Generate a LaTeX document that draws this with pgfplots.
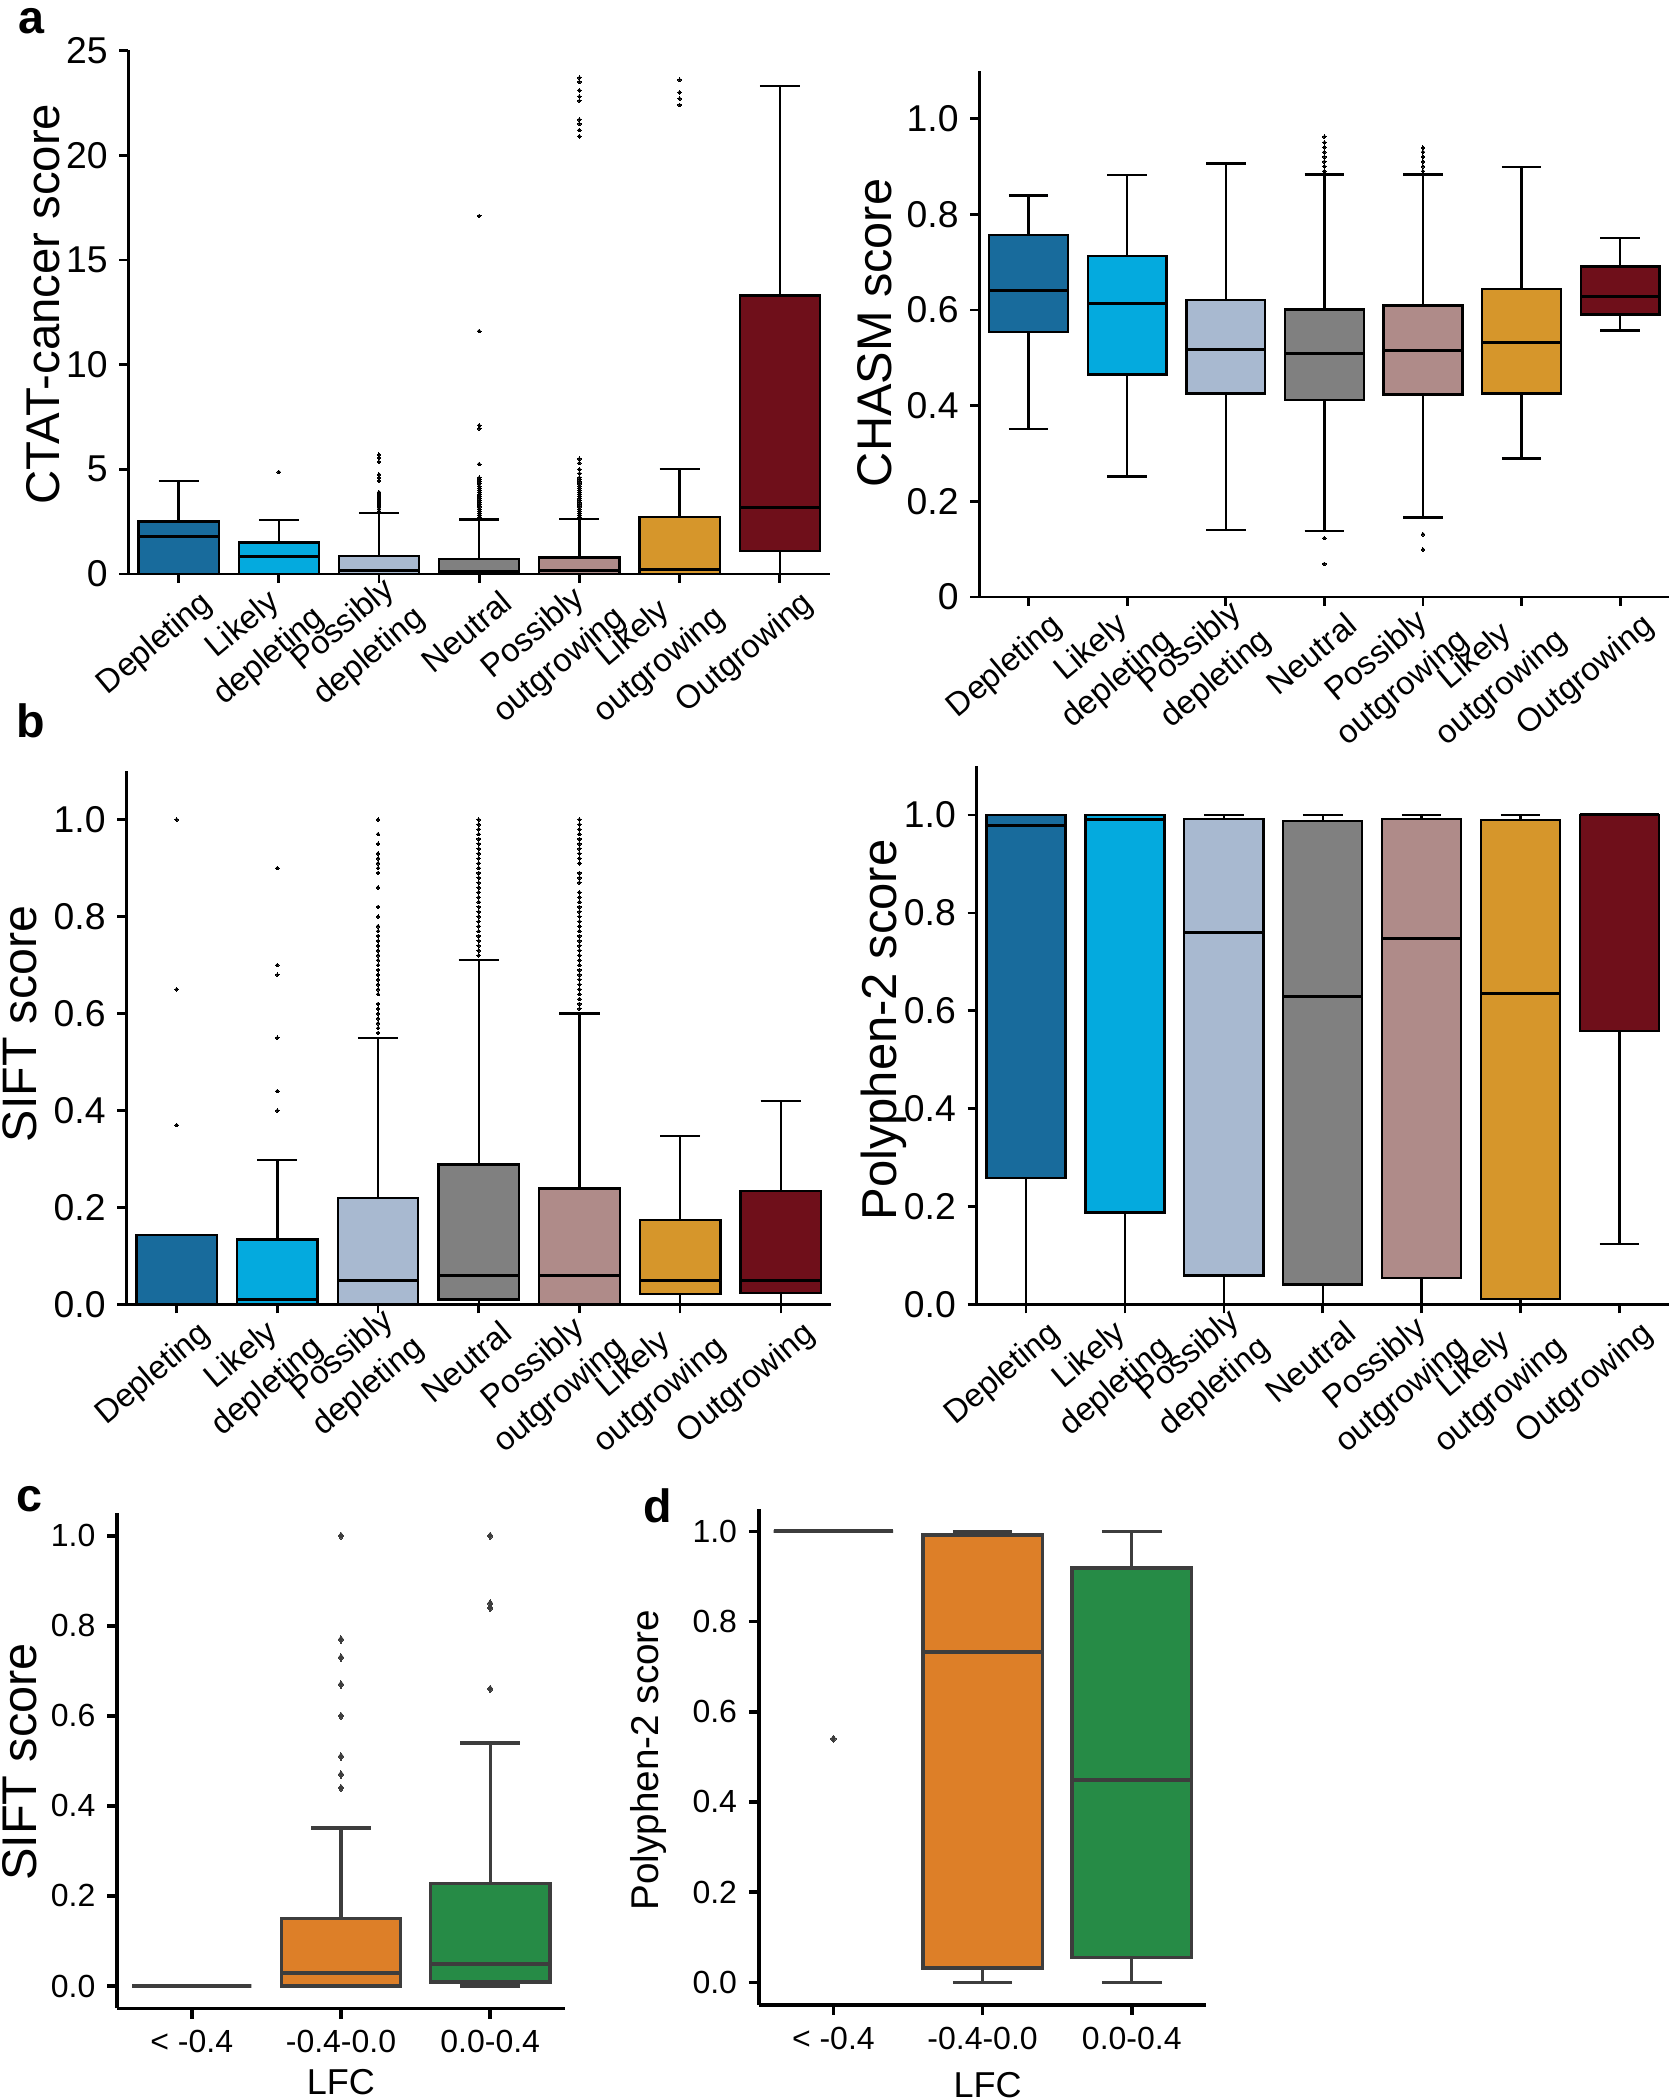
\documentclass[border=0pt]{standalone}
\usepackage{fontspec}
\setmainfont{Liberation Sans}
\usepackage{pgfplots}
\pgfplotsset{compat=1.18}
\usepgfplotslibrary{statistics}

\definecolor{cDep}{HTML}{186B9C}
\definecolor{cLD}{HTML}{04AADE}
\definecolor{cPD}{HTML}{A8B9D0}
\definecolor{cNeu}{HTML}{808080}
\definecolor{cPO}{HTML}{AF8B89}
\definecolor{cLO}{HTML}{D6962B}
\definecolor{cOut}{HTML}{6F0F1A}
\definecolor{cOr}{HTML}{DD7F28}
\definecolor{cGr}{HTML}{268B46}
\definecolor{cEdge}{HTML}{3D3D3D}

\pgfplotsset{
  catax/.style={
    scale only axis, anchor=south west, clip=false,
    axis lines*=left,
    axis line style={line width=0.8pt},
    x axis line style={shorten <=-2.4pt},
    tick align=outside,
    major tick length=2.7pt,
    tick style={line width=0.8pt, black},
    xmin=-0.5, xmax=6.5,
    xtick={0,3,6},
    xticklabels={Depleting,Neutral,Outgrowing},
    extra x ticks={1,2,4,5},
    extra x tick labels={{Likely\\depleting},{Possibly\\depleting},{Possibly\\outgrowing},{Likely\\outgrowing}},
    extra x tick style={xticklabel style={anchor=east, yshift=-7.6pt}},
    xticklabel style={font=\fontsize{9.8}{12.2}\selectfont, align=center, xshift=6.4pt, yshift=3.4pt, rotate=40, anchor=north east},
    yticklabel style={font=\fontsize{11.2}{13}\selectfont},
    /pgf/number format/assume math mode=true,
    boxplot/draw direction=y,
    boxplot/box extend=0.8,
    boxplot/whisker extend=0.4,
    boxplot/every median/.style={line width=0.9pt},
  },
  bx/.style={draw=black, line width=0.7pt, fill=#1, mark=*, mark size=0.55pt, mark options={fill=black, draw=black, line width=0pt}},
  lfcax/.style={
    scale only axis, anchor=south west, clip=false,
    axis lines*=left,
    axis line style={line width=1.1pt},
    tick align=outside,
    major tick length=3pt,
    tick style={line width=1.1pt, black},
    xmin=-0.5, xmax=2.5, ymin=-0.05, ymax=1.05,
    xtick={0,1,2},
    xticklabels={< -0.4,-0.4-0.0,0.0-0.4},
    xticklabel style={font=\fontsize{9.6}{11}\selectfont},
    ytick={0,0.2,0.4,0.6,0.8,1.0},
    yticklabels={0.0,0.2,0.4,0.6,0.8,1.0},
    yticklabel style={font=\fontsize{9.6}{11}\selectfont},
    boxplot/draw direction=y,
    boxplot/box extend=0.8,
    boxplot/whisker extend=0.4,
    boxplot/every median/.style={line width=1.2pt},
  },
  sb/.style={draw=cEdge, line width=1pt, fill=#1, mark=diamond*, mark size=1.1pt, mark options={fill=cEdge, draw=cEdge, line width=0pt}},
}

\begin{document}
\begin{tikzpicture}
\useasboundingbox (0,0) rectangle (504pt,630pt);

% ---------------- panel a left: CTAT-cancer
\begin{axis}[catax, at={(38.55pt,457.8pt)}, width=210.42pt, height=157.05pt,
  ymin=0, ymax=25, ytick={0,5,10,15,20,25}]
\addplot[bx=cDep, boxplot prepared={draw position=0, lower whisker=0, lower quartile=0, median=1.8, upper quartile=2.5, upper whisker=4.43}] coordinates {};
\addplot[bx=cLD, boxplot prepared={draw position=1, lower whisker=0, lower quartile=0, median=0.83, upper quartile=1.51, upper whisker=2.57}] table[row sep=\\,y index=0] {v\\ 4.87\\};
\addplot[bx=cPD, boxplot prepared={draw position=2, lower whisker=0, lower quartile=0, median=0.15, upper quartile=0.86, upper whisker=2.9}] table[row sep=\\,y index=0] {v\\ 5.7\\ 5.55\\ 5.35\\ 4.75\\ 4.6\\ 4.45\\ 3.9\\ 3.8\\ 3.7\\ 3.6\\ 3.5\\ 3.4\\ 3.3\\ 3.2\\ 3.1\\ 3.0\\};
\addplot[bx=cNeu, boxplot prepared={draw position=3, lower whisker=0, lower quartile=0, median=0.1, upper quartile=0.72, upper whisker=2.6}] table[row sep=\\,y index=0] {v\\ 17.1\\ 11.6\\ 7.1\\ 6.95\\ 5.25\\ 4.6\\ 4.5\\ 4.4\\ 4.3\\ 4.2\\ 4.1\\ 4.0\\ 3.9\\ 3.8\\ 3.7\\ 3.6\\ 3.5\\ 3.4\\ 3.3\\ 3.2\\ 3.1\\ 3.0\\ 2.9\\ 2.8\\ 2.7\\};
\addplot[bx=cPO, boxplot prepared={draw position=4, lower whisker=0, lower quartile=0, median=0.15, upper quartile=0.79, upper whisker=2.63}] table[row sep=\\,y index=0] {v\\ 23.7\\ 23.5\\ 23.1\\ 22.8\\ 22.6\\ 21.7\\ 21.5\\ 21.2\\ 20.9\\ 5.5\\ 5.3\\ 5.0\\ 4.8\\ 4.6\\ 4.5\\ 4.4\\ 4.3\\ 4.2\\ 4.1\\ 4.0\\ 3.9\\ 3.8\\ 3.7\\ 3.6\\ 3.5\\ 3.4\\ 3.3\\ 3.2\\ 3.1\\ 3.0\\ 2.9\\ 2.8\\ 2.7\\};
\addplot[bx=cLO, boxplot prepared={draw position=5, lower whisker=0, lower quartile=0, median=0.2, upper quartile=2.72, upper whisker=5.0}] table[row sep=\\,y index=0] {v\\ 23.6\\ 23.0\\ 22.7\\ 22.4\\};
\addplot[bx=cOut, boxplot prepared={draw position=6, lower whisker=0, lower quartile=1.1, median=3.18, upper quartile=13.3, upper whisker=23.3}] coordinates {};
\end{axis}

% ---------------- panel a right: CHASM
\begin{axis}[catax, at={(293.79pt,450.93pt)}, width=207.06pt, height=157.86pt,
  ymin=0, ymax=1.1, ytick={0,0.2,0.4,0.6,0.8,1.0}, yticklabels={0,0.2,0.4,0.6,0.8,1.0}]
\addplot[bx=cDep, boxplot prepared={draw position=0, lower whisker=0.351, lower quartile=0.554, median=0.641, upper quartile=0.757, upper whisker=0.839}] coordinates {};
\addplot[bx=cLD, boxplot prepared={draw position=1, lower whisker=0.252, lower quartile=0.465, median=0.613, upper quartile=0.713, upper whisker=0.882}] coordinates {};
\addplot[bx=cPD, boxplot prepared={draw position=2, lower whisker=0.140, lower quartile=0.425, median=0.517, upper quartile=0.620, upper whisker=0.906}] coordinates {};
\addplot[bx=cNeu, boxplot prepared={draw position=3, lower whisker=0.138, lower quartile=0.412, median=0.508, upper quartile=0.601, upper whisker=0.883}] table[row sep=\\,y index=0] {v\\ 0.962\\ 0.95\\ 0.94\\ 0.93\\ 0.92\\ 0.91\\ 0.90\\ 0.89\\ 0.123\\ 0.069\\};
\addplot[bx=cPO, boxplot prepared={draw position=4, lower whisker=0.166, lower quartile=0.423, median=0.516, upper quartile=0.609, upper whisker=0.883}] table[row sep=\\,y index=0] {v\\ 0.939\\ 0.93\\ 0.92\\ 0.91\\ 0.90\\ 0.89\\ 0.131\\ 0.099\\};
\addplot[bx=cLO, boxplot prepared={draw position=5, lower whisker=0.289, lower quartile=0.425, median=0.532, upper quartile=0.643, upper whisker=0.899}] coordinates {};
\addplot[bx=cOut, boxplot prepared={draw position=6, lower whisker=0.557, lower quartile=0.590, median=0.628, upper quartile=0.691, upper whisker=0.750}] coordinates {};
\end{axis}

% ---------------- panel b left: SIFT
\begin{axis}[catax, at={(37.89pt,238.65pt)}, width=211.47pt, height=160.02pt,
  ymin=0, ymax=1.1, ytick={0,0.2,0.4,0.6,0.8,1.0}, yticklabels={0.0,0.2,0.4,0.6,0.8,1.0}]
\addplot[bx=cDep, boxplot prepared={draw position=0, lower whisker=0, lower quartile=0, median=0, upper quartile=0.144, upper whisker=0.144}] table[row sep=\\,y index=0] {v\\ 1.0\\ 0.65\\ 0.37\\};
\addplot[bx=cLD, boxplot prepared={draw position=1, lower whisker=0, lower quartile=0, median=0.01, upper quartile=0.134, upper whisker=0.298}] table[row sep=\\,y index=0] {v\\ 0.90\\ 0.70\\ 0.68\\ 0.55\\ 0.44\\ 0.40\\};
\addplot[bx=cPD, boxplot prepared={draw position=2, lower whisker=0, lower quartile=0, median=0.049, upper quartile=0.219, upper whisker=0.55}] table[row sep=\\,y index=0] {v\\ 1.0\\ 0.97\\ 0.95\\ 0.93\\ 0.92\\ 0.91\\ 0.90\\ 0.89\\ 0.86\\ 0.82\\ 0.80\\ 0.78\\ 0.77\\ 0.76\\ 0.75\\ 0.74\\ 0.73\\ 0.72\\ 0.71\\ 0.70\\ 0.69\\ 0.68\\ 0.67\\ 0.66\\ 0.65\\ 0.64\\ 0.62\\ 0.61\\ 0.60\\ 0.59\\ 0.58\\ 0.57\\ 0.56\\};
\addplot[bx=cNeu, boxplot prepared={draw position=3, lower whisker=0, lower quartile=0.01, median=0.059, upper quartile=0.289, upper whisker=0.71}] table[row sep=\\,y index=0] {v\\ 1.0\\ 0.99\\ 0.98\\ 0.97\\ 0.96\\ 0.95\\ 0.94\\ 0.93\\ 0.92\\ 0.91\\ 0.90\\ 0.89\\ 0.88\\ 0.87\\ 0.86\\ 0.85\\ 0.84\\ 0.83\\ 0.82\\ 0.81\\ 0.80\\ 0.79\\ 0.78\\ 0.77\\ 0.76\\ 0.75\\ 0.74\\ 0.73\\ 0.72\\};
\addplot[bx=cPO, boxplot prepared={draw position=4, lower whisker=0, lower quartile=0, median=0.059, upper quartile=0.239, upper whisker=0.60}] table[row sep=\\,y index=0] {v\\ 1.0\\ 0.99\\ 0.98\\ 0.97\\ 0.96\\ 0.95\\ 0.94\\ 0.93\\ 0.92\\ 0.91\\ 0.89\\ 0.88\\ 0.87\\ 0.85\\ 0.84\\ 0.83\\ 0.82\\ 0.81\\ 0.80\\ 0.79\\ 0.78\\ 0.77\\ 0.76\\ 0.75\\ 0.74\\ 0.73\\ 0.72\\ 0.71\\ 0.70\\ 0.69\\ 0.68\\ 0.67\\ 0.66\\ 0.65\\ 0.64\\ 0.63\\ 0.62\\ 0.61\\};
\addplot[bx=cLO, boxplot prepared={draw position=5, lower whisker=0, lower quartile=0.022, median=0.049, upper quartile=0.174, upper whisker=0.348}] coordinates {};
\addplot[bx=cOut, boxplot prepared={draw position=6, lower whisker=0, lower quartile=0.024, median=0.049, upper quartile=0.234, upper whisker=0.42}] coordinates {};
\end{axis}

% ---------------- panel b right: Polyphen-2
\begin{axis}[catax, at={(292.98pt,238.65pt)}, width=207.69pt, height=161.55pt,
  ymin=0, ymax=1.1, ytick={0,0.2,0.4,0.6,0.8,1.0}, yticklabels={0.0,0.2,0.4,0.6,0.8,1.0}]
\addplot[bx=cDep, boxplot prepared={draw position=0, lower whisker=0, lower quartile=0.259, median=0.979, upper quartile=1.0, upper whisker=1.0}] coordinates {};
\addplot[bx=cLD, boxplot prepared={draw position=1, lower whisker=0, lower quartile=0.188, median=0.99, upper quartile=1.0, upper whisker=1.0}] coordinates {};
\addplot[bx=cPD, boxplot prepared={draw position=2, lower whisker=0, lower quartile=0.059, median=0.76, upper quartile=0.992, upper whisker=1.0}] coordinates {};
\addplot[bx=cNeu, boxplot prepared={draw position=3, lower whisker=0, lower quartile=0.041, median=0.63, upper quartile=0.987, upper whisker=1.0}] coordinates {};
\addplot[bx=cPO, boxplot prepared={draw position=4, lower whisker=0, lower quartile=0.054, median=0.747, upper quartile=0.992, upper whisker=1.0}] coordinates {};
\addplot[bx=cLO, boxplot prepared={draw position=5, lower whisker=0, lower quartile=0.011, median=0.635, upper quartile=0.99, upper whisker=1.0}] coordinates {};
\addplot[bx=cOut, boxplot prepared={draw position=6, lower whisker=0.123, lower quartile=0.559, median=1.0, upper quartile=1.0, upper whisker=1.0}] coordinates {};
\end{axis}

% ---------------- panel c: SIFT by LFC
\begin{axis}[lfcax, at={(35.16pt,27.45pt)}, width=134.28pt, height=148.56pt]
\addplot[sb=cEdge, boxplot prepared={draw position=0, lower whisker=0, lower quartile=0, median=0, upper quartile=0, upper whisker=0}] coordinates {};
\addplot[sb=cOr, boxplot prepared={draw position=1, lower whisker=0, lower quartile=0, median=0.029, upper quartile=0.150, upper whisker=0.351}] table[row sep=\\,y index=0] {v\\ 1.0\\ 0.77\\ 0.73\\ 0.67\\ 0.60\\ 0.51\\ 0.47\\ 0.44\\};
\addplot[sb=cGr, boxplot prepared={draw position=2, lower whisker=0, lower quartile=0.009, median=0.049, upper quartile=0.227, upper whisker=0.54}] table[row sep=\\,y index=0] {v\\ 1.0\\ 0.85\\ 0.84\\ 0.66\\};
\end{axis}

% ---------------- panel d: Polyphen-2 by LFC
\begin{axis}[lfcax, at={(227.64pt,28.53pt)}, width=134.28pt, height=148.83pt]
\addplot[sb=cEdge, boxplot prepared={draw position=0, lower whisker=1.0, lower quartile=1.0, median=1.0, upper quartile=1.0, upper whisker=1.0}] table[row sep=\\,y index=0] {v\\ 0.54\\};
\addplot[sb=cOr, boxplot prepared={draw position=1, lower whisker=0, lower quartile=0.032, median=0.733, upper quartile=0.992, upper whisker=1.0}] coordinates {};
\addplot[sb=cGr, boxplot prepared={draw position=2, lower whisker=0, lower quartile=0.055, median=0.449, upper quartile=0.919, upper whisker=1.0}] coordinates {};
\end{axis}

% ---------------- axis titles and panel letters
\node[rotate=90, font=\fontsize{14.2}{16}\selectfont] at (12.9pt,538.8pt) {CTAT-cancer score};
\node[rotate=90, font=\fontsize{14.6}{16}\selectfont] at (262.5pt,530.1pt) {CHASM score};
\node[rotate=90, font=\fontsize{14.5}{16}\selectfont] at (5.9pt,322.8pt) {SIFT score};
\node[rotate=90, font=\fontsize{14.7}{16}\selectfont] at (265.2pt,321pt) {Polyphen-2 score};
\node[rotate=90, font=\fontsize{14.6}{16}\selectfont] at (5.8pt,101.4pt) {SIFT score};
\node[rotate=90, font=\fontsize{11.6}{13}\selectfont] at (194.55pt,102pt) {Polyphen-2 score};
\node[font=\fontsize{10.8}{12}\selectfont] at (102.24pt,5.3pt) {LFC};
\node[font=\fontsize{10.8}{12}\selectfont] at (296.3pt,4.6pt) {LFC};
\node[font=\bfseries\fontsize{14}{16}\selectfont, inner sep=0pt] at (9.3pt,623.6pt) {a};
\node[font=\bfseries\fontsize{14}{16}\selectfont, inner sep=0pt] at (9.3pt,413.7pt) {b};
\node[font=\bfseries\fontsize{14}{16}\selectfont, inner sep=0pt] at (8.85pt,180.3pt) {c};
\node[font=\bfseries\fontsize{14}{16}\selectfont, inner sep=0pt] at (197.4pt,178.2pt) {d};
\end{tikzpicture}
\end{document}
